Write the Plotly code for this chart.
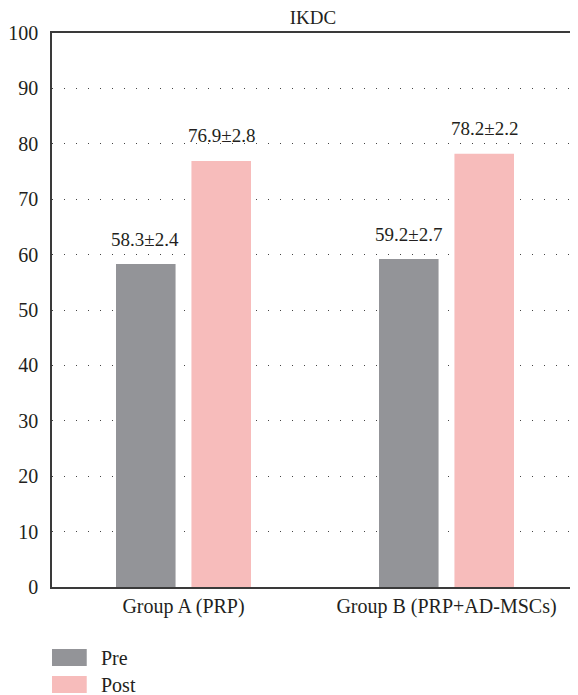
import plotly.graph_objects as go

categories = ["Group A (PRP)", "Group B (PRP+AD-MSCs)"]
series_names = ["Pre", "Post"]
pre_values = [58.3, 59.2]
post_values = [76.9, 78.2]
pre_sd = [2.4, 2.7]
post_sd = [2.8, 2.2]
y_ticks = [0, 10, 20, 30, 40, 50, 60, 70, 80, 90, 100]

colors = ["#939498", "#f7bcbb"]
FONT = "Liberation Serif"
TXT = "#231f20"
BODY = 8  # default page margin around the plot div
W, H = 578 - BODY, 695 - BODY
ML, MR, MT, MB = 48 - BODY, 0, 33 - BODY, 108
BARGAP, GROUPGAP = 0.4264, 0.2105

fig = go.Figure()
for name, vals, col in zip(series_names, [pre_values, post_values], colors):
    fig.add_trace(go.Bar(
        x=categories, y=vals, name=name,
        marker=dict(color=col, line=dict(width=0)),
        showlegend=False,
    ))

# value labels above bars
plot_w = W - ML - MR
plot_h = H - MT - MB
cat_px = plot_w / len(categories)
slot_px = cat_px * (1 - BARGAP) / len(series_names)
for i, (vals, sds) in enumerate([(pre_values, pre_sd), (post_values, post_sd)]):
    shift = (i - (len(series_names) - 1) / 2) * slot_px
    for c, v, s in zip(categories, vals, sds):
        fig.add_annotation(x=c, y=v, xref="x", yref="y", text=f"{v:.1f}±{s:.1f}",
                           showarrow=False, xshift=shift, yshift=25,
                           xanchor="center", yanchor="middle",
                           font=dict(family=FONT, size=19, color=TXT))

fig.update_layout(
    width=W, height=H,
    margin=dict(l=ML, r=MR, t=MT, b=MB),
    paper_bgcolor="white", plot_bgcolor="white",
    barmode="group", bargap=BARGAP, bargroupgap=GROUPGAP,
    title=dict(text="IKDC", x=(ML + plot_w / 2) / W, xanchor="center",
               y=1 - 3 / H, yanchor="top", pad=dict(t=0, b=0),
               font=dict(family=FONT, size=19, color=TXT)),
    font=dict(family=FONT, size=20, color=TXT),
)
fig.update_xaxes(
    showline=True, linecolor="#3a3a3a", linewidth=1.5, mirror=True,
    showgrid=False, ticks="", tickfont=dict(family=FONT, size=20, color=TXT),
    range=[-0.5, 1.5],
)
fig.update_yaxes(
    range=[0, 100], tickvals=y_ticks, showline=True, linecolor="#3a3a3a", linewidth=1.5,
    showgrid=True, gridcolor="#444444", gridwidth=1, griddash="1px,11px",
    zeroline=False, ticks="outside", ticklen=0, ticklabelstandoff=8,
    tickfont=dict(family=FONT, size=20, color=TXT),
)

# custom legend (swatch + label)
def py2paper(py):
    return (H - MB - (py - BODY)) / plot_h
def px2paper(px):
    return (px - BODY - ML) / plot_w

legend_rows = [(649, 666), (676, 693)]
for name, col, (y0, y1) in zip(series_names, colors, legend_rows):
    fig.add_shape(type="rect", xref="paper", yref="paper",
                  x0=px2paper(48), x1=px2paper(83),
                  y0=py2paper(y1), y1=py2paper(y0),
                  fillcolor=col, line=dict(width=0))
    fig.add_annotation(xref="paper", yref="paper", x=px2paper(95),
                       y=py2paper((y0 + y1) / 2), text=name, showarrow=False,
                       xanchor="left", yanchor="middle",
                       font=dict(family=FONT, size=20, color=TXT))

fig.write_html("out.html")
